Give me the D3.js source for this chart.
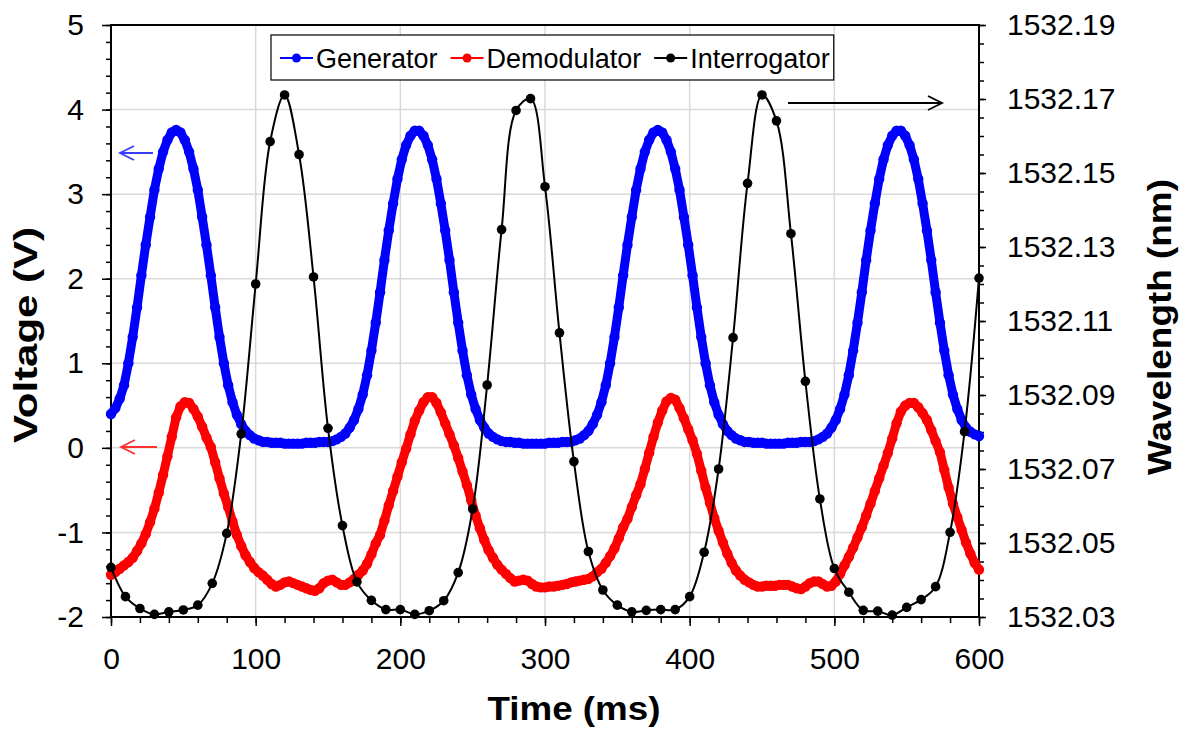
<!DOCTYPE html>
<html>
<head>
<meta charset="utf-8">
<script src="https://cdn.jsdelivr.net/npm/d3@7"></script>
<style>
body { margin: 0; background: #fff; }
text { font-family: Arial, "Liberation Sans", sans-serif; }
</style>
</head>
<body>
<svg class="chart"></svg>
<script>
// generator and demodulator were logged every 3 ms, interrogator every 10 ms
var sampleStep = 3;
var interrogatorStep = 10;

var generator = [
    0.40,0.47,0.58,0.74,1.00,1.31,1.66,2.04,2.40,2.73,
    3.05,3.30,3.50,3.64,3.73,3.76,3.73,3.64,3.50,3.30,
    3.05,2.73,2.40,2.04,1.66,1.31,1.00,0.74,0.54,0.39,
    0.28,0.20,0.15,0.11,0.09,0.07,0.07,0.06,0.06,0.06,
    0.05,0.05,0.05,0.05,0.05,0.06,0.06,0.06,0.07,0.07,
    0.07,0.08,0.10,0.13,0.17,0.24,0.33,0.46,0.63,0.86,
    1.15,1.48,1.84,2.22,2.57,2.89,3.18,3.41,3.58,3.69,
    3.75,3.75,3.69,3.58,3.41,3.18,2.89,2.57,2.22,1.84,
    1.48,1.15,0.86,0.63,0.46,0.33,0.24,0.17,0.13,0.10,
    0.08,0.07,0.07,0.06,0.06,0.05,0.05,0.05,0.05,0.05,
    0.05,0.06,0.06,0.06,0.07,0.07,0.07,0.09,0.11,0.15,
    0.20,0.28,0.39,0.54,0.74,1.00,1.31,1.66,2.04,2.40,
    2.73,3.05,3.30,3.50,3.64,3.73,3.76,3.73,3.64,3.50,
    3.30,3.05,2.73,2.40,2.04,1.66,1.31,1.00,0.74,0.54,
    0.39,0.28,0.20,0.15,0.11,0.09,0.07,0.07,0.06,0.06,
    0.06,0.05,0.05,0.05,0.05,0.05,0.06,0.06,0.06,0.07,
    0.07,0.07,0.08,0.10,0.13,0.17,0.24,0.33,0.46,0.63,
    0.86,1.15,1.48,1.84,2.22,2.57,2.89,3.18,3.41,3.58,
    3.69,3.75,3.75,3.69,3.58,3.41,3.18,2.89,2.57,2.22,
    1.84,1.48,1.15,0.86,0.63,0.46,0.33,0.24,0.19,0.16,
    0.14
];

var demodulator = [
    -1.50,-1.47,-1.43,-1.39,-1.35,-1.30,-1.22,-1.13,-1.02,-0.88,
    -0.72,-0.53,-0.32,-0.10,0.13,0.36,0.49,0.54,0.53,0.46,
    0.37,0.25,0.12,0.01,-0.17,-0.36,-0.54,-0.70,-0.87,-1.03,
    -1.16,-1.27,-1.35,-1.42,-1.47,-1.51,-1.56,-1.61,-1.64,-1.62,
    -1.59,-1.58,-1.60,-1.62,-1.64,-1.66,-1.68,-1.69,-1.66,-1.60,
    -1.57,-1.56,-1.59,-1.62,-1.62,-1.59,-1.55,-1.50,-1.45,-1.37,
    -1.26,-1.13,-1.03,-0.86,-0.68,-0.51,-0.34,-0.17,-0.01,0.16,
    0.32,0.44,0.54,0.60,0.60,0.53,0.42,0.29,0.16,0.03,
    -0.12,-0.28,-0.44,-0.62,-0.80,-0.95,-1.09,-1.21,-1.30,-1.38,
    -1.44,-1.49,-1.54,-1.58,-1.57,-1.56,-1.57,-1.61,-1.64,-1.65,
    -1.65,-1.64,-1.64,-1.63,-1.62,-1.61,-1.59,-1.58,-1.57,-1.56,
    -1.55,-1.52,-1.47,-1.43,-1.36,-1.28,-1.19,-1.07,-0.94,-0.84,
    -0.70,-0.56,-0.43,-0.25,-0.06,0.13,0.30,0.44,0.55,0.59,
    0.57,0.47,0.35,0.22,0.09,-0.07,-0.27,-0.47,-0.65,-0.83,
    -0.98,-1.12,-1.25,-1.36,-1.45,-1.51,-1.56,-1.59,-1.62,-1.64,
    -1.64,-1.63,-1.63,-1.63,-1.62,-1.62,-1.62,-1.64,-1.66,-1.67,
    -1.64,-1.60,-1.58,-1.58,-1.61,-1.64,-1.63,-1.58,-1.49,-1.39,
    -1.29,-1.18,-1.06,-0.94,-0.80,-0.66,-0.51,-0.36,-0.21,-0.06,
    0.11,0.29,0.43,0.50,0.53,0.53,0.48,0.41,0.33,0.21,
    0.08,-0.05,-0.26,-0.47,-0.66,-0.82,-0.97,-1.12,-1.25,-1.36,
    -1.44
];

var interrogator = [
    1532.0434,1532.0355,1532.0323,1532.0307,1532.0314,1532.0319,1532.0332,1532.0391,1532.0526,1532.0795,
    1532.1200,1532.1585,1532.1711,1532.1550,1532.1219,1532.0810,1532.0547,1532.0395,1532.0345,1532.0320,
    1532.0320,1532.0307,1532.0317,1532.0344,1532.0420,1532.0592,1532.0927,1532.1347,1532.1669,1532.1701,
    1532.1463,1532.1068,1532.0720,1532.0477,1532.0373,1532.0332,1532.0314,1532.0318,1532.0320,1532.0320,
    1532.0355,1532.0475,1532.0700,1532.1055,1532.1472,1532.1711,1532.1641,1532.1336,1532.0937,1532.0619,
    1532.0431,1532.0367,1532.0318,1532.0316,1532.0305,1532.0326,1532.0347,1532.0382,1532.0529,1532.0801,
    1532.1216
];

var timeTicks = [0, 100, 200, 300, 400, 500, 600];
var voltTicks = [-2, -1, 0, 1, 2, 3, 4, 5];
var waveTicks = [1532.03, 1532.05, 1532.07, 1532.09, 1532.11, 1532.13, 1532.15, 1532.17, 1532.19];

var seriesNames = ["Generator", "Demodulator", "Interrogator"];
var seriesColors = ["#0000ff", "#ff0000", "#000000"];

var svgWidth = 1187, svgHeight = 731;
var margin = { top: 25, right: 208, bottom: 114, left: 111 };
var width = svgWidth - margin.left - margin.right;
var height = svgHeight - margin.top - margin.bottom;

var svg = d3.select(".chart")
    .attr("width", svgWidth)
    .attr("height", svgHeight);

var g = svg.append("g")
    .attr("transform", "translate(" + margin.left + "," + margin.top + ")");

var x = d3.scaleLinear().domain([0, 600]).range([0, width]);
var yV = d3.scaleLinear().domain([-2, 5]).range([height, 0]);
var yW = d3.scaleLinear().domain([1532.03, 1532.19]).range([height, 0]);

// gridlines
g.selectAll(".hgrid")
    .data(voltTicks.slice(1, -1))
    .enter()
    .append("line")
    .attr("x1", 0)
    .attr("x2", width)
    .attr("y1", function(d) { return yV(d); })
    .attr("y2", function(d) { return yV(d); })
    .attr("stroke", "#d9d9d9")
    .attr("stroke-width", 1.5);

g.selectAll(".vgrid")
    .data(timeTicks.slice(1, -1))
    .enter()
    .append("line")
    .attr("y1", 0)
    .attr("y2", height)
    .attr("x1", function(d) { return x(d); })
    .attr("x2", function(d) { return x(d); })
    .attr("stroke", "#d9d9d9")
    .attr("stroke-width", 1.5);

// axes: minor ticks first, then the labelled ones
function styleAxis(sel) {
    sel.select(".domain").remove();
    sel.selectAll("line").attr("stroke", "#000").attr("stroke-width", 1.5);
    sel.selectAll("text").attr("font-size", "30px").attr("fill", "#000");
}

g.append("g")
    .call(d3.axisLeft(yV).tickValues(d3.range(-2, 5.001, 0.2)).tickFormat("").tickSize(5))
    .call(styleAxis);
g.append("g")
    .call(d3.axisLeft(yV).tickValues(voltTicks).tickFormat(function(d) { return String(d); })
        .tickSize(9).tickPadding(18))
    .call(styleAxis);

g.append("g")
    .attr("transform", "translate(0," + height + ")")
    .call(d3.axisBottom(x).tickValues(d3.range(0, 601, 20)).tickFormat("").tickSize(6))
    .call(styleAxis);
g.append("g")
    .attr("transform", "translate(0," + height + ")")
    .call(d3.axisBottom(x).tickValues(timeTicks).tickFormat(function(d) { return String(d); })
        .tickSize(9).tickPadding(22))
    .call(styleAxis);

g.append("g")
    .attr("transform", "translate(" + width + ",0)")
    .call(d3.axisRight(yW).tickValues(d3.range(1532.03, 1532.1901, 0.005)).tickFormat("").tickSize(5))
    .call(styleAxis);
g.append("g")
    .attr("transform", "translate(" + width + ",0)")
    .call(d3.axisRight(yW).tickValues(waveTicks).tickFormat(d3.format(".2f"))
        .tickSize(7).tickPadding(21))
    .call(styleAxis);

// plot frame
g.append("rect")
    .attr("width", width)
    .attr("height", height)
    .attr("fill", "none")
    .attr("stroke", "#000")
    .attr("stroke-width", 2);

// voltage series: a thick trace with a dot on every sample
function drawVoltage(values, color) {
    var pts = values.map(function(v, i) { return { t: i * sampleStep, v: v }; });
    var line = d3.line()
        .x(function(d) { return x(d.t); })
        .y(function(d) { return yV(d.v); });
    g.append("path")
        .datum(pts)
        .attr("fill", "none")
        .attr("stroke", color)
        .attr("stroke-width", 9)
        .attr("stroke-linejoin", "round")
        .attr("stroke-linecap", "round")
        .attr("d", line);
    g.append("g")
        .selectAll("circle")
        .data(pts)
        .enter()
        .append("circle")
        .attr("cx", function(d) { return x(d.t); })
        .attr("cy", function(d) { return yV(d.v); })
        .attr("r", 5.2)
        .attr("fill", color);
}

drawVoltage(generator, seriesColors[0]);
drawVoltage(demodulator, seriesColors[1]);

var wavePts = interrogator.map(function(v, i) { return { t: i * interrogatorStep, v: v }; });
var waveLine = d3.line()
    .curve(d3.curveCatmullRom)
    .x(function(d) { return x(d.t); })
    .y(function(d) { return yW(d.v); });

g.append("path")
    .datum(wavePts)
    .attr("fill", "none")
    .attr("stroke", seriesColors[2])
    .attr("stroke-width", 2)
    .attr("d", waveLine);

g.append("g")
    .selectAll("circle")
    .data(wavePts)
    .enter()
    .append("circle")
    .attr("cx", function(d) { return x(d.t); })
    .attr("cy", function(d) { return yW(d.v); })
    .attr("r", 4.8)
    .attr("fill", seriesColors[2]);

// arrows telling which axis each series belongs to
function arrow(x1, x2, y, color) {
    var dir = x2 < x1 ? 1 : -1;
    svg.append("line")
        .attr("x1", x1).attr("x2", x2)
        .attr("y1", y).attr("y2", y)
        .attr("stroke", color)
        .attr("stroke-width", 1.8);
    svg.append("path")
        .attr("d", "M" + (x2 + dir * 14) + "," + (y - 7) + "L" + x2 + "," + y + "L" + (x2 + dir * 14) + "," + (y + 7))
        .attr("fill", "none")
        .attr("stroke", color)
        .attr("stroke-width", 1.8);
}
arrow(153, 120, 153, "#3b3bff");
arrow(157, 121, 447, "#ff3030");
arrow(788, 942, 103, "#000");

// legend
var legend = svg.append("g");
var legendBox = legend.append("rect")
    .attr("y", 35)
    .attr("height", 45)
    .attr("fill", "#fff")
    .attr("stroke", "#000")
    .attr("stroke-width", 1.2);

var lx = 280;
seriesNames.forEach(function(name, i) {
    legend.append("line")
        .attr("x1", lx).attr("x2", lx + 33)
        .attr("y1", 58).attr("y2", 58)
        .attr("stroke", seriesColors[i])
        .attr("stroke-width", 2);
    legend.append("circle")
        .attr("cx", lx + 16.5)
        .attr("cy", 58)
        .attr("r", 4.5)
        .attr("fill", seriesColors[i]);
    var t = legend.append("text")
        .attr("x", lx + 36)
        .attr("y", 68)
        .attr("font-size", "27px")
        .text(name);
    lx = lx + 36 + t.node().getComputedTextLength() + 13;
});
legendBox.attr("x", 271).attr("width", lx - 13 + 4 - 271);

// axis titles
svg.append("text")
    .attr("x", 574)
    .attr("y", 720)
    .attr("text-anchor", "middle")
    .attr("font-size", "34px")
    .attr("font-weight", "bold")
    .attr("textLength", 173)
    .attr("lengthAdjust", "spacingAndGlyphs")
    .text("Time (ms)");

svg.append("text")
    .attr("transform", "translate(37,335) rotate(-90)")
    .attr("text-anchor", "middle")
    .attr("font-size", "33px")
    .attr("font-weight", "bold")
    .attr("textLength", 216)
    .attr("lengthAdjust", "spacingAndGlyphs")
    .text("Voltage  (V)");

svg.append("text")
    .attr("transform", "translate(1171,327) rotate(-90)")
    .attr("text-anchor", "middle")
    .attr("font-size", "33px")
    .attr("font-weight", "bold")
    .attr("textLength", 296)
    .attr("lengthAdjust", "spacingAndGlyphs")
    .text("Wavelength (nm)");
</script>
</body>
</html>
